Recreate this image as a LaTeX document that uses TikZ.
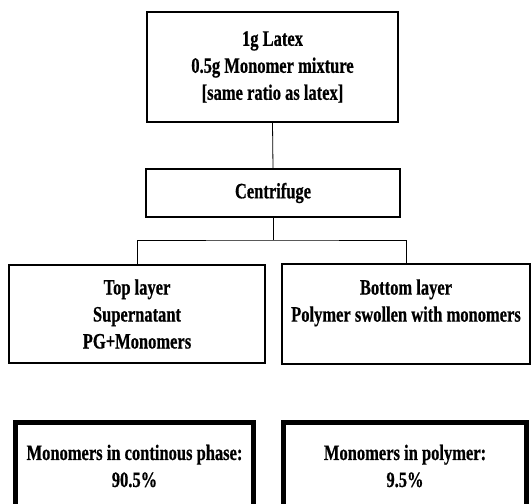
\documentclass[tikz,border=0pt]{standalone}
\usepackage{fontspec}
\setmainfont{Liberation Serif}[FakeStretch=0.75, BoldFeatures={FakeBold=0.6}]
\begin{document}
\begin{tikzpicture}[x=1pt,y=-1pt,
  every node/.style={font=\fontsize{22}{27}\selectfont\bfseries, align=center, inner sep=2pt},
  box/.style={draw, line width=1.4pt, rectangle},
  thickbox/.style={draw, line width=5pt, rectangle},
  link/.style={draw, line width=0.8pt}]
\clip (0,0) rectangle (532,503);
\path[use as bounding box] (0,0) rectangle (532,503);
\node[box, minimum width=251, minimum height=110] (mix) at (272.5,67)
  {1g Latex\\0.5g Monomer mixture\\ {[same ratio as latex]}};
\node[box, minimum width=254, minimum height=48] (cent) at (273,193) {Centrifuge};
\node[box, minimum width=256, minimum height=98] (top) at (137,314)
  {Top layer\\Supernatant\\PG+Monomers};
\node[box, minimum width=248, minimum height=100] (bot) at (406,314)
  {Bottom layer\\Polymer swollen with monomers\\ \mbox{}};
\node[thickbox, minimum width=238, minimum height=88] (cp) at (134.5,466)
  {Monomers in continous phase:\\90.5\%};
\node[thickbox, minimum width=243, minimum height=88] (pp) at (405,466)
  {Monomers in polymer:\\9.5\%};
\coordinate (br) at (273,240);
\draw[link] (mix.south) -- (cent.north);
\draw[link] (cent.south) -- (br);
\draw[link] (top.north) |- (br) -| (bot.north);
\end{tikzpicture}
\end{document}
